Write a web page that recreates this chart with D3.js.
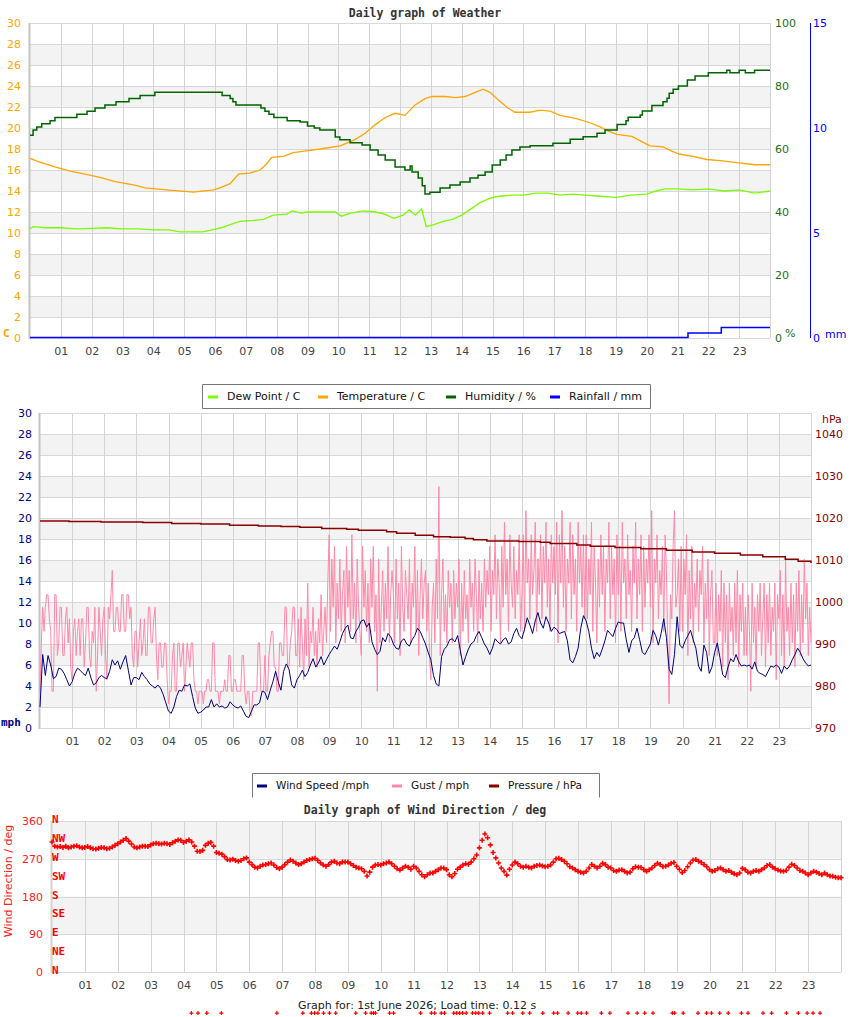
<!DOCTYPE html>
<html>
<head>
<meta charset="utf-8">
<script src="https://cdn.jsdelivr.net/npm/d3@7/dist/d3.min.js"></script>
<style>
body { margin: 0; background: #fff; }
svg text { font-family: "DejaVu Sans", sans-serif; }
</style>
</head>
<body>
<svg id="chart" width="850" height="1017"></svg>
<script>
// ---- data (hour of day, value) ----
var hourTicks = d3.range(1, 24);

var temperature = [[0,17.1],[0.27,16.8],[0.81,16.3],[1.3,15.9],[1.78,15.6],[2.27,15.3],[2.76,14.9],[3.4,14.55],[3.73,14.3],[4.43,14.1],[5.3,13.9],[5.95,14.1],[6.16,14.3],[6.49,14.7],[6.76,15.6],[7.13,15.7],[7.46,16.0],[7.68,16.6],[7.84,17.2],[8.22,17.3],[8.54,17.65],[8.9,17.8],[9.41,18.0],[10.06,18.3],[10.54,18.9],[10.87,19.5],[11.19,20.3],[11.52,21.0],[11.84,21.4],[12.16,21.2],[12.49,22.2],[12.81,22.8],[13.04,23.0],[13.46,23.0],[13.8,22.9],[14.11,23.0],[14.44,23.4],[14.69,23.7],[14.92,23.4],[15.18,22.7],[15.5,21.9],[15.73,21.5],[16.22,21.5],[16.54,21.7],[16.87,21.6],[17.19,21.2],[17.73,20.9],[18.16,20.5],[18.49,20.1],[18.76,19.7],[19.03,19.4],[19.52,19.2],[19.84,18.7],[20.11,18.3],[20.54,18.2],[20.81,17.8],[21.08,17.5],[21.51,17.3],[21.95,17.0],[22.38,16.9],[22.92,16.7],[23.51,16.5],[24,16.5]];

var dewPoint = [[0,10.4],[0.1,10.6],[0.5,10.5],[1,10.5],[1.5,10.4],[2,10.45],[2.5,10.5],[3,10.4],[3.5,10.4],[4,10.3],[4.5,10.3],[4.87,10.1],[5.6,10.1],[6.05,10.4],[6.2,10.5],[6.49,10.8],[6.81,11.1],[7.24,11.2],[7.57,11.3],[7.89,11.7],[8.33,11.8],[8.5,12.1],[8.8,11.9],[9,12.0],[9.5,12.0],[9.9,12.0],[10.1,11.6],[10.4,11.9],[10.8,12.1],[11.2,12.0],[11.5,11.8],[11.8,11.4],[12.1,11.7],[12.3,12.2],[12.5,11.7],[12.7,12.3],[12.85,10.6],[13.1,10.8],[13.4,11.1],[13.7,11.3],[14.0,11.7],[14.3,12.3],[14.6,12.9],[14.9,13.3],[15.2,13.5],[15.6,13.6],[16.0,13.6],[16.4,13.8],[16.8,13.8],[17.2,13.6],[17.6,13.7],[18.0,13.6],[18.5,13.5],[19.0,13.4],[19.5,13.6],[20.0,13.7],[20.3,14.0],[20.6,14.2],[21.0,14.2],[21.5,14.1],[22.0,14.2],[22.5,14.0],[23.0,14.1],[23.5,13.8],[24,14.0]];

var humidity = [[0,64.4],[0.1,66],[0.22,67],[0.38,68],[0.65,69],[0.81,70],[1.52,71],[1.85,72],[2.11,73],[2.43,74],[2.79,75],[3.21,76],[3.57,77],[4.05,78],[6.23,77],[6.49,76],[6.58,75],[6.68,74],[7.49,73],[7.62,72],[7.75,71],[7.91,70],[8.34,69],[8.76,68.6],[9.0,67.3],[9.22,66.7],[9.4,66],[9.9,63.8],[10.05,62.9],[10.38,62],[10.77,61.3],[11.03,59.7],[11.29,58.1],[11.52,56.5],[11.84,54.3],[12.16,53.3],[12.33,54.6],[12.39,52.7],[12.59,50.8],[12.72,48.3],[12.81,45.7],[12.97,46.3],[13.3,47.6],[13.62,48.6],[13.95,49.5],[14.27,50.8],[14.53,51.7],[14.76,52.7],[14.99,54.9],[15.25,56.5],[15.44,58.1],[15.63,59.7],[15.89,60.6],[16.22,61],[16.96,61.8],[17.52,63.1],[17.94,63.9],[18.39,65.0],[18.65,66.0],[19.04,67.8],[19.33,69.0],[19.4,70.1],[19.79,70.8],[19.86,72.1],[20.17,73.8],[20.53,75.0],[20.66,76.1],[20.73,77.7],[20.86,79.0],[21.03,80.0],[21.32,81.9],[21.57,83.2],[22.0,84.2],[22.6,85],[22.7,84.2],[23.0,85],[23.2,84.2],[23.5,85],[24,85]];

var rainfall = [[0,0],[21.34,0.22],[22.42,0.48],[24,0.48]];

// wind speed every 5 minutes, mph
var windSpeed = [
  2.0, 7.0, 5.0, 6.9, 6.0, 4.7, 4.9, 5.7, 5.6, 5.2, 4.6, 4.0,
  4.4, 5.2, 5.7, 5.5, 5.2, 5.0, 5.7, 4.8, 4.1, 4.3, 4.8, 5.0,
  4.8, 4.7, 5.4, 6.5, 6.0, 6.4, 5.6, 6.3, 6.9, 5.5, 4.1, 4.8,
  4.8, 4.6, 5.3, 4.9, 4.6, 4.2, 4.0, 3.8, 4.1, 3.8, 3.2, 2.4,
  1.6, 1.4, 2.0, 3.0, 3.6, 3.5, 4.1, 4.0, 4.2, 3.0, 1.9, 1.4,
  1.5, 1.7, 2.0, 2.0, 2.7, 2.0, 2.3, 2.0, 2.1, 1.9, 2.0, 2.5,
  2.2, 2.0, 1.9, 2.1, 1.6, 1.1, 1.0, 1.6, 2.2, 2.2, 2.4, 3.5,
  3.4, 2.7, 3.6, 4.4, 5.4, 4.4, 3.6, 5.4, 6.1, 5.6, 4.1, 3.8,
  4.6, 5.0, 5.5, 4.9, 5.3, 6.0, 6.6, 5.8, 6.2, 6.8, 6.0, 6.5,
  7.0, 7.4, 7.8, 7.5, 8.2, 9.0, 9.5, 9.8, 8.6, 8.5, 9.2, 9.6,
  10.2, 10.3, 9.6, 10.0, 8.2, 7.5, 7.0, 7.3, 8.6, 8.2, 9.0, 8.7,
  8.0, 7.6, 7.5, 8.3, 8.5, 8.0, 7.8, 8.4, 8.8, 9.5, 9.2, 8.6,
  8.0, 7.2, 6.5, 5.0, 4.2, 4.0, 6.8, 7.5, 7.8, 8.4, 8.5, 8.2,
  8.8, 7.4, 6.0, 6.8, 7.5, 8.0, 8.2, 8.8, 9.2, 8.6, 8.0, 7.6,
  7.0, 7.6, 8.5, 8.2, 8.0, 8.4, 8.6, 8.0, 8.2, 9.0, 9.5, 8.8,
  8.5, 9.4, 10.5, 9.8, 9.0, 10.2, 11.0, 10.0, 9.5, 10.6, 10.0, 9.2,
  9.6, 9.4, 9.0, 9.1, 9.2, 8.3, 6.5, 6.2, 6.8, 7.6, 9.5, 10.7,
  10.2, 9.2, 7.6, 6.6, 7.2, 6.8, 7.5, 8.3, 9.3, 9.0, 8.7, 9.5,
  10.1, 10.0, 10.0, 8.4, 7.2, 8.3, 8.6, 9.5, 8.4, 7.2, 7.0, 7.5,
  8.0, 9.3, 8.8, 7.9, 9.0, 10.4, 8.6, 5.6, 5.1, 7.0, 10.6, 7.9,
  7.6, 8.3, 8.8, 9.3, 8.4, 7.6, 5.9, 5.4, 7.9, 7.2, 5.2, 5.8,
  7.2, 8.1, 6.7, 5.1, 4.8, 5.8, 6.6, 6.3, 7.0, 6.3, 5.9, 6.0,
  5.9, 6.0, 5.6, 6.3, 5.4, 5.2, 5.1, 4.9, 5.4, 5.9, 5.8, 6.0,
  5.8, 5.2, 5.9, 5.6, 5.9, 6.5, 7.0, 7.6, 7.2, 6.6, 6.2, 5.9,
  6.0
];

// gust every 2.5 minutes, mph
var gust = [
  3.5, 8.1, 11.5, 9.2, 11.5, 12.7, 12.7, 10.4, 9.2, 3.5, 3.5, 12.7, 12.7, 6.9, 8.1, 11.5, 11.5, 6.9, 6.9, 10.4, 11.5, 8.1, 10.4, 5.8,
  4.6, 9.2, 10.4, 6.9, 9.2, 10.4, 6.9, 10.4, 10.4, 5.8, 8.1, 11.5, 11.5, 6.9, 5.8, 9.2, 8.1, 11.5, 3.5, 6.9, 11.5, 9.2, 6.9, 10.4,
  11.5, 6.9, 4.6, 11.5, 10.4, 12.7, 15.0, 9.2, 9.2, 11.5, 11.5, 9.2, 9.2, 12.7, 12.7, 9.2, 9.2, 12.7, 12.7, 10.4, 11.5, 6.9, 5.8, 9.2,
  9.2, 5.8, 8.1, 10.4, 6.9, 8.1, 10.4, 6.9, 6.9, 11.5, 11.5, 8.1, 8.1, 10.4, 11.5, 6.9, 4.6, 8.1, 8.1, 5.8, 5.8, 8.1, 8.1, 4.6,
  2.3, 3.5, 3.5, 6.9, 8.1, 3.5, 3.5, 8.1, 8.1, 5.8, 6.9, 8.1, 3.5, 5.8, 8.1, 6.9, 5.8, 8.1, 8.1, 4.6, 3.5, 3.5, 2.3, 3.5,
  3.5, 3.5, 2.3, 3.5, 3.5, 4.6, 4.6, 3.5, 3.5, 8.1, 8.1, 3.5, 3.5, 3.5, 2.3, 3.5, 3.5, 3.5, 4.6, 3.5, 3.5, 6.9, 6.9, 3.5,
  3.5, 4.6, 4.6, 3.5, 3.5, 3.5, 3.5, 6.9, 6.9, 3.5, 2.3, 3.5, 3.5, 1.2, 1.2, 3.5, 3.5, 3.5, 3.5, 8.1, 8.1, 3.5, 3.5, 3.5,
  6.9, 3.5, 3.5, 6.9, 8.1, 9.2, 9.2, 5.8, 5.8, 3.5, 3.5, 8.1, 8.1, 6.9, 6.9, 11.5, 11.5, 5.8, 5.8, 8.1, 9.2, 11.5, 11.5, 6.9,
  6.9, 10.4, 5.8, 11.5, 8.1, 4.6, 10.4, 6.9, 13.8, 5.8, 9.2, 8.1, 11.5, 6.9, 9.2, 5.8, 10.4, 8.1, 12.7, 6.9, 9.2, 11.5, 8.1, 13.8,
  18.4, 9.2, 16.1, 11.5, 17.3, 8.1, 13.8, 10.4, 16.1, 9.2, 12.7, 15.0, 8.1, 17.3, 11.5, 15.0, 9.2, 18.4, 10.4, 13.8, 8.1, 16.1, 11.5, 9.2,
  6.9, 17.3, 11.5, 15.0, 9.2, 13.8, 8.1, 16.1, 11.5, 17.3, 9.2, 12.7, 3.5, 16.1, 8.1, 11.5, 15.0, 9.2, 13.8, 10.4, 17.3, 8.1, 12.7, 15.0,
  12.7, 8.1, 16.1, 10.4, 13.8, 6.9, 17.3, 11.5, 9.2, 15.0, 12.7, 10.4, 16.1, 8.1, 13.8, 11.5, 17.3, 9.2, 15.0, 6.9, 12.7, 16.1, 10.4, 13.8,
  15.0, 9.2, 13.8, 6.9, 4.6, 11.5, 13.8, 8.1, 16.1, 10.4, 23.0, 6.9, 12.7, 16.1, 9.2, 12.7, 8.1, 15.0, 11.5, 13.8, 8.1, 15.0, 10.4, 13.8,
  11.5, 16.1, 6.9, 13.8, 9.2, 15.0, 10.4, 12.7, 8.1, 16.1, 11.5, 13.8, 9.2, 16.1, 12.7, 8.1, 15.0, 10.4, 13.8, 9.2, 16.1, 11.5, 15.0, 12.7,
  17.3, 9.2, 15.0, 12.7, 18.4, 10.4, 16.1, 13.8, 8.1, 17.3, 11.5, 19.6, 12.7, 16.1, 9.2, 18.4, 13.8, 11.5, 17.3, 10.4, 15.0, 12.7, 18.4, 9.2,
  12.7, 18.4, 9.2, 20.7, 13.8, 16.1, 10.4, 18.4, 12.7, 15.0, 19.6, 9.2, 16.1, 12.7, 18.4, 10.4, 17.3, 13.8, 19.6, 11.5, 16.1, 9.2, 18.4, 13.8,
  17.3, 12.7, 19.6, 8.1, 18.4, 13.8, 20.7, 11.5, 17.3, 9.2, 16.1, 13.8, 19.6, 10.4, 18.4, 12.7, 16.1, 9.2, 19.6, 13.8, 17.3, 11.5, 18.4, 10.4,
  18.4, 10.4, 16.1, 12.7, 19.6, 9.2, 17.3, 13.8, 8.1, 16.1, 11.5, 18.4, 12.7, 17.3, 9.2, 16.1, 13.8, 19.6, 10.4, 17.3, 12.7, 16.1, 8.1, 18.4,
  12.7, 17.3, 9.2, 19.6, 13.8, 16.1, 10.4, 18.4, 12.7, 15.0, 9.2, 17.3, 13.8, 19.6, 10.4, 16.1, 12.7, 18.4, 9.2, 17.3, 11.5, 16.1, 13.8, 18.4,
  11.5, 20.7, 8.1, 16.1, 13.8, 18.4, 10.4, 15.0, 12.7, 17.3, 9.2, 18.4, 15.0, 8.1, 2.3, 12.7, 10.4, 17.3, 20.7, 11.5, 12.7, 16.1, 9.2, 17.3,
  9.2, 16.1, 12.7, 18.4, 6.9, 15.0, 10.4, 17.3, 8.1, 13.8, 11.5, 16.1, 9.2, 15.0, 12.7, 17.3, 8.1, 13.8, 10.4, 16.1, 6.9, 12.7, 15.0, 8.1,
  8.1, 13.8, 6.9, 12.7, 9.2, 15.0, 5.8, 13.8, 8.1, 12.7, 4.6, 13.8, 9.2, 11.5, 6.9, 13.8, 8.1, 15.0, 5.8, 12.7, 9.2, 13.8, 6.9, 11.5,
  6.9, 12.7, 9.2, 3.5, 13.8, 8.1, 11.5, 5.8, 12.7, 9.2, 13.8, 6.9, 10.4, 13.8, 5.8, 12.7, 8.1, 13.8, 6.9, 11.5, 9.2, 13.8, 4.6, 12.7,
  10.4, 15.0, 6.9, 12.7, 5.8, 16.1, 9.2, 11.5, 6.9, 13.8, 8.1, 12.7, 5.8, 13.8, 9.2, 15.0, 6.9, 12.7, 8.1, 16.1, 10.4, 13.8, 6.9, 11.5,
  8.1
];

var pressure = [[0,1019.3],[0.9,1019.15],[1.9,1019.05],[3.2,1018.9],[4.1,1018.7],[5.0,1018.55],[5.9,1018.3],[6.8,1018.1],[7.5,1018.0],[8.09,1017.8],[8.77,1017.5],[9.55,1017.3],[9.91,1017.1],[10.79,1016.7],[11.1,1016.35],[11.68,1015.9],[12.25,1015.55],[12.77,1015.4],[13.23,1015.1],[13.49,1014.8],[13.91,1014.5],[14.9,1014.4],[15.57,1014.2],[15.88,1013.9],[16.71,1013.6],[17.13,1013.3],[17.9,1013.0],[18.7,1012.7],[19.5,1012.3],[20.3,1011.9],[21.0,1011.6],[21.8,1011.2],[22.5,1010.8],[23.2,1010.2],[23.6,1009.7],[24,1009.3]];

// wind direction every 5 minutes, degrees
var windDir = [
  310, 300, 298, 299, 297, 300, 296, 298, 300, 301, 298, 296,
  297, 299, 296, 294, 293, 295, 297, 296, 294, 295, 298, 302,
  306, 310, 314, 318, 312, 305, 298, 296, 298, 300, 300, 299,
  303, 306, 307, 306, 305, 307, 306, 304, 308, 312, 315, 314,
  309, 312, 315, 310, 300, 288, 287, 290, 302, 307, 309, 300,
  285, 283, 281, 275, 268, 267, 269, 266, 264, 266, 270, 272,
  262, 256, 250, 248, 252, 255, 256, 258, 260, 255, 249, 246,
  250, 256, 262, 267, 264, 260, 256, 258, 262, 266, 268, 270,
  271, 266, 260, 255, 252, 256, 262, 264, 260, 258, 262, 262,
  262, 258, 254, 250, 248, 246, 240, 229, 238, 250, 255, 256,
  255, 258, 260, 262, 258, 252, 246, 243, 248, 252, 250, 245,
  252, 248, 240, 232, 227, 232, 236, 236, 240, 244, 248, 248,
  244, 232, 227, 235, 245, 250, 255, 258, 257, 262, 270, 279,
  296, 314, 329, 320, 303, 285, 272, 260, 248, 240, 231, 245,
  255, 262, 258, 252, 250, 252, 250, 248, 252, 254, 255, 253,
  251, 252, 255, 262, 270, 271, 268, 264, 258, 251, 248, 244,
  240, 238, 236, 240, 248, 256, 252, 248, 252, 259, 256, 250,
  248, 242, 240, 243, 244, 240, 236, 238, 246, 251, 250, 249,
  244, 240, 244, 248, 254, 259, 256, 251, 252, 255, 259, 261,
  252, 245, 237, 242, 251, 260, 267, 268, 264, 261, 256, 251,
  244, 240, 242, 246, 248, 244, 240, 242, 238, 234, 232, 236,
  247, 244, 238, 236, 240, 242, 240, 244, 248, 254, 256, 250,
  246, 243, 241, 240, 242, 250, 257, 254, 248, 242, 240, 236,
  232, 236, 240, 238, 235, 232, 236, 232, 229, 228, 226, 225,
  225
];

// calm readings, plotted below the axis by the original page
var calmHours = [4.24, 4.44, 4.71, 5.15, 6.84, 7.63, 7.89, 7.99, 8.09, 8.26, 8.44, 8.63, 9.24, 9.54, 9.71, 9.78, 9.84, 10.27, 10.39, 11.21, 11.54, 11.64, 11.84, 11.94, 12.22, 12.31, 12.4, 12.49, 12.6, 12.79, 12.89, 12.98, 13.1, 13.31, 13.86, 14.01, 14.32, 14.53, 14.93, 15.26, 15.38, 15.7, 15.99, 16.1, 16.26, 16.71, 16.97, 17.52, 17.8, 18.03, 18.28, 18.87, 18.94, 19.2, 19.65, 19.91, 20.06, 20.31, 20.57, 20.97, 21.17, 21.63, 21.89, 22.34, 22.7, 22.97, 23.15, 23.36];
var calmValue = -98;

var compass = ["N", "NE", "E", "SE", "S", "SW", "W", "NW", "N"];

var legend1 = [
    {label: "Dew Point / C", color: "#7cfc00"},
    {label: "Temperature / C", color: "#ffa500"},
    {label: "Humidity / %", color: "#006400"},
    {label: "Rainfall / mm", color: "#0000ff"}
];
var legend2 = [
    {label: "Wind Speed /mph", color: "#000080"},
    {label: "Gust / mph", color: "#ff88aa"},
    {label: "Pressure / hPa", color: "#880000"}
];

var svg = d3.select("#chart");

//Draw the frame of one panel: bands, grid, hour labels
function drawPanel(p) {
    var x = d3.scaleLinear().domain([0, 24]).range([p.left, p.right]);
    var y = d3.scaleLinear().domain(p.yDomain).range([p.bottom, p.top]);
    var g = svg.append("g");

    g.selectAll(".band").data(p.bands).join("rect")
        .attr("x", p.left)
        .attr("width", p.right - p.left)
        .attr("y", d => y(d + p.bandSize))
        .attr("height", d => y(d) - y(d + p.bandSize))
        .attr("fill", "#f3f3f3");

    g.selectAll(".hgrid").data(p.grid).join("line")
        .attr("x1", p.left).attr("x2", p.right)
        .attr("y1", d => Math.round(y(d)) + 0.5)
        .attr("y2", d => Math.round(y(d)) + 0.5)
        .attr("stroke", "#d8d8d8");

    g.selectAll(".vgrid").data(hourTicks.concat([24])).join("line")
        .attr("x1", d => Math.round(x(d)) + 0.5)
        .attr("x2", d => Math.round(x(d)) + 0.5)
        .attr("y1", p.top).attr("y2", p.bottom)
        .attr("stroke", "#d3d3d3");

    //Left edge
    g.append("line")
        .attr("x1", p.left - 0.5).attr("x2", p.left - 0.5)
        .attr("y1", p.top).attr("y2", p.bottom + 1)
        .attr("stroke", p.edge).attr("stroke-width", 2);

    //Hour labels
    var xa = g.append("g")
        .attr("transform", `translate(0,${p.bottom})`)
        .call(d3.axisBottom(x).tickValues(hourTicks).tickFormat(d3.format("02d")).tickSize(0).tickPadding(9));
    xa.select(".domain").remove();
    xa.selectAll("text")
        .attr("fill", "#444")
        .style("font-size", "11px")
        .style("font-family", "DejaVu Sans");

    return {g: g, x: x, y: y};
}

//Value labels on a side
function sideAxis(g, axis, xPos, color) {
    var a = g.append("g")
        .attr("transform", `translate(${xPos},0)`)
        .call(axis);
    a.select(".domain").remove();
    a.selectAll("text")
        .attr("fill", color)
        .style("font-size", "11px")
        .style("font-family", "DejaVu Sans");
    return a;
}

function title(text, yPos) {
    svg.append("text")
        .attr("x", 425).attr("y", yPos)
        .attr("text-anchor", "middle")
        .style("font-family", "DejaVu Sans Mono")
        .style("font-weight", "bold")
        .style("font-size", "11.5px")
        .attr("fill", "#333")
        .text(text);
}

//Legend box; swatch positions follow the original layout
function legend(items, slots, x0, x1, y0, h, fontSize, closed) {
    var g = svg.append("g");
    var d = closed
        ? `M${x0 + 0.5},${y0 + 0.5}H${x1 + 0.5}V${y0 + h + 0.5}H${x0 + 0.5}Z`
        : `M${x0 + 0.5},${y0 + h + 0.5}V${y0 + 0.5}H${x1 + 0.5}V${y0 + h + 0.5}`;
    g.append("path").attr("d", d).attr("fill", "#fff").attr("stroke", "#777");
    items.forEach(function (item, i) {
        var cx = slots[i];
        g.append("line")
            .attr("x1", cx).attr("x2", cx + 10)
            .attr("y1", y0 + h / 2 + 1).attr("y2", y0 + h / 2 + 1)
            .attr("stroke", item.color).attr("stroke-width", 3);
        g.append("text")
            .attr("x", cx + 19).attr("y", y0 + h / 2 + 4)
            .style("font-size", fontSize + "px")
            .attr("fill", "#111")
            .text(item.label);
    });
}

// ================= Weather panel =================
title("Daily graph of Weather", 17);
var p1 = drawPanel({left: 30, right: 770, top: 23, bottom: 338, yDomain: [0, 30],
    bands: [2, 6, 10, 14, 18, 22, 26], bandSize: 2, grid: d3.range(0, 31, 2), edge: "#c4c4c4"});
var yHum = d3.scaleLinear().domain([0, 100]).range([338, 23]);
var yRain = d3.scaleLinear().domain([0, 15]).range([338, 23]);

sideAxis(p1.g, d3.axisLeft(p1.y).tickValues(d3.range(0, 31, 2)).tickSize(0).tickPadding(9), 30, "#ffa500");
sideAxis(p1.g, d3.axisRight(yHum).tickValues([0, 20, 40, 60, 80, 100]).tickSize(0).tickPadding(5), 770, "#1a6e1a");
sideAxis(p1.g, d3.axisRight(yRain).tickValues([0, 5, 10, 15]).tickSize(0).tickPadding(3), 810, "#0000ff");
p1.g.append("line")
    .attr("x1", 810.5).attr("x2", 810.5)
    .attr("y1", 23).attr("y2", 338)
    .attr("stroke", "#0000ff");
p1.g.append("text").attr("x", 3).attr("y", 337).attr("fill", "#ffa500")
    .style("font-family", "DejaVu Sans Mono").style("font-weight", "bold").style("font-size", "11px").text("C");
p1.g.append("text").attr("x", 785).attr("y", 337).attr("fill", "#1a6e1a").style("font-size", "11px").text("%");
p1.g.append("text").attr("x", 825).attr("y", 338).attr("fill", "#0000ff").style("font-size", "11px").text("mm");

var lineT = d3.line().x(d => p1.x(d[0])).y(d => p1.y(d[1]));
var lineH = d3.line().x(d => p1.x(d[0])).y(d => yHum(d[1])).curve(d3.curveStepAfter);
var lineR = d3.line().x(d => p1.x(d[0])).y(d => yRain(d[1]) - 0.5).curve(d3.curveStepAfter);

p1.g.append("path").datum(dewPoint).attr("d", lineT)
    .attr("fill", "none").attr("stroke", "#7cfc00").attr("stroke-width", 1.3);
p1.g.append("path").datum(temperature).attr("d", lineT)
    .attr("fill", "none").attr("stroke", "#ffa500").attr("stroke-width", 1.3);
p1.g.append("path").datum(humidity).attr("d", lineH)
    .attr("fill", "none").attr("stroke", "#006400").attr("stroke-width", 1.5);
p1.g.append("path").datum(rainfall).attr("d", lineR)
    .attr("fill", "none").attr("stroke", "#0000ff").attr("stroke-width", 1.5);

// ================= Wind panel =================
title("Daily graph of Weather", 406);
var p2 = drawPanel({left: 40, right: 811, top: 413, bottom: 728, yDomain: [0, 30],
    bands: [2, 6, 10, 14, 18, 22, 26], bandSize: 2, grid: d3.range(0, 31, 2), edge: "#c4c4c4"});
var yPres = d3.scaleLinear().domain([970, 1045]).range([728, 413]);

sideAxis(p2.g, d3.axisLeft(p2.y).tickValues(d3.range(0, 31, 2)).tickSize(0).tickPadding(8), 40, "#000080");
sideAxis(p2.g, d3.axisRight(yPres).tickValues(d3.range(970, 1041, 10)).tickFormat(d3.format("d")).tickSize(0).tickPadding(4), 811, "#880000");
p2.g.append("text").attr("x", 1).attr("y", 726).attr("fill", "#000080")
    .style("font-family", "DejaVu Sans Mono").style("font-weight", "bold").style("font-size", "11px").text("mph");
p2.g.append("text").attr("x", 822).attr("y", 423).attr("fill", "#880000").style("font-size", "11px").text("hPa");

var lineGust = d3.line().x((d, i) => p2.x(i / 24)).y(d => p2.y(d));
var lineWind = d3.line().x((d, i) => p2.x(i / 12)).y(d => p2.y(d));
var lineP = d3.line().x(d => p2.x(d[0])).y(d => yPres(d[1])).curve(d3.curveStepAfter);

p2.g.append("path").datum(gust).attr("d", lineGust)
    .attr("fill", "none").attr("stroke", "#ff88aa").attr("stroke-width", 1);
p2.g.append("path").datum(windSpeed).attr("d", lineWind)
    .attr("fill", "none").attr("stroke", "#000080").attr("stroke-width", 1);
p2.g.append("path").datum(pressure).attr("d", lineP)
    .attr("fill", "none").attr("stroke", "#880000").attr("stroke-width", 1.5);

//Legend of the first panel is drawn over the second title
legend(legend1, [208, 318, 446, 550], 202, 650, 384, 24, 11, true);
legend(legend2, [257, 392, 489], 252, 599, 773, 24, 10.5, false);

// ================= Wind direction panel =================
title("Daily graph of Wind Direction / deg", 814);
var p3 = drawPanel({left: 52, right: 841, top: 821, bottom: 972, yDomain: [0, 360],
    bands: [90, 270], bandSize: 90, grid: [0, 90, 180, 270, 360], edge: "#d3d3d3"});

sideAxis(p3.g, d3.axisLeft(p3.y).tickValues([0, 90, 180, 270, 360]).tickSize(0).tickPadding(9), 52, "#ff2020");
p3.g.append("text")
    .attr("transform", "translate(12,881) rotate(-90)")
    .attr("text-anchor", "middle")
    .attr("fill", "#ff2020")
    .style("font-size", "11px")
    .text("Wind Direction / deg");

p3.g.selectAll(".compass").data(compass).join("text")
    .attr("x", 52)
    .attr("y", (d, i) => p3.y(i * 45) + 2)
    .attr("fill", "#ff0000")
    .style("font-family", "DejaVu Sans Mono")
    .style("font-weight", "bold")
    .style("font-size", "11px")
    .text(d => d);

var plus = "M-2.5,0H2.5M0,-2.5V2.5";
p3.g.selectAll(".dir").data(windDir).join("path")
    .attr("d", plus)
    .attr("transform", (d, i) => `translate(${p3.x(i / 12)},${p3.y(d)})`)
    .attr("stroke", "#ff0000").attr("stroke-width", 1.6).attr("fill", "none");

svg.append("g").selectAll(".calm").data(calmHours).join("path")
    .attr("d", "M-2,0H2M0,-2V2")
    .attr("transform", d => `translate(${p3.x(d)},${p3.y(calmValue)})`)
    .attr("stroke", "#ff0000").attr("stroke-width", 1.2).attr("fill", "none");

svg.append("text")
    .attr("x", 298).attr("y", 1009)
    .attr("fill", "#222")
    .style("font-size", "11px")
    .text("Graph for: 1st June 2026; Load time: 0.12 s");
</script>
</body>
</html>
